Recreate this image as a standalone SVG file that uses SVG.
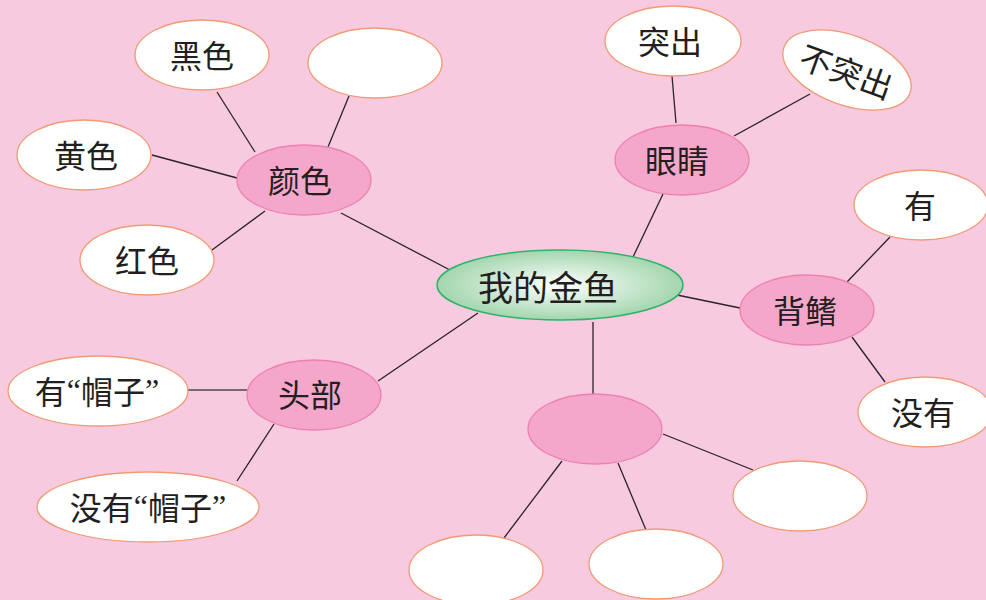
<svg xmlns="http://www.w3.org/2000/svg" width="986" height="600" viewBox="0 0 986 600">
<style>
.leaf{fill:#FFFFFF;stroke:#F29A74;stroke-width:1.3}
.mid{fill:#F4A6CB;stroke:#EE80B0;stroke-width:1.3}
.t{font-family:"Noto Sans CJK SC","Noto Sans CJK TC",sans-serif;font-size:32px;fill:#231F20;text-anchor:middle;dominant-baseline:central}
.q{font-family:"Liberation Serif",serif}
.c line{stroke:#2B2326;stroke-width:1.3}
</style>
<defs>
<radialGradient id="g" cx="0.5" cy="0.5" r="0.5">
<stop offset="0" stop-color="#FFFFFF"/>
<stop offset="1" stop-color="#A3D6AE"/>
</radialGradient>
</defs>
<rect width="986" height="600" fill="#F7CADF"/>
<g class="c" id="connectors">
<line x1="217" y1="92" x2="255" y2="152"/>
<line x1="349" y1="96" x2="328" y2="147"/>
<line x1="152" y1="155" x2="237" y2="178"/>
<line x1="212" y1="250" x2="265" y2="211"/>
<line x1="341" y1="213" x2="450" y2="270"/>
<line x1="672" y1="76" x2="676" y2="123"/>
<line x1="810" y1="94" x2="734" y2="136"/>
<line x1="663" y1="194" x2="633" y2="257"/>
<line x1="890" y1="237" x2="847" y2="282"/>
<line x1="677" y1="295" x2="740" y2="308"/>
<line x1="852" y1="337" x2="885" y2="382"/>
<line x1="187" y1="390" x2="247" y2="390" style="stroke:#7A6870;stroke-width:2"/>
<line x1="274" y1="424" x2="237" y2="481"/>
<line x1="378" y1="381" x2="478" y2="313"/>
<line x1="593" y1="322" x2="593" y2="394"/>
<line x1="562" y1="461" x2="504" y2="538"/>
<line x1="618" y1="463" x2="646" y2="530"/>
<line x1="663" y1="434" x2="753" y2="470"/>
</g>
<g id="center"><ellipse cx="560" cy="285" rx="123" ry="35" fill="url(#g)" stroke="#2DB36A" stroke-width="1.5"/><text class="t" x="548" y="285" style="font-size:35px">我的金鱼</text></g>
<g id="yanse"><ellipse class="mid" cx="304" cy="180" rx="67" ry="35"/><text class="t" x="300" y="179">颜色</text></g>
<g id="heise"><ellipse class="leaf" cx="202" cy="55" rx="67" ry="35"/><text class="t" x="202" y="54">黑色</text></g>
<g id="empty1"><ellipse class="leaf" cx="375" cy="63" rx="67" ry="35"/></g>
<g id="huangse"><ellipse class="leaf" cx="84" cy="155" rx="67" ry="35"/><text class="t" x="86" y="154">黄色</text></g>
<g id="hongse"><ellipse class="leaf" cx="147" cy="260" rx="67" ry="35"/><text class="t" x="147" y="259">红色</text></g>
<g id="yanjing"><ellipse class="mid" cx="682" cy="160" rx="67" ry="35"/><text class="t" x="677" y="159">眼睛</text></g>
<g id="tuchu"><ellipse class="leaf" cx="673" cy="41" rx="68" ry="35"/><text class="t" x="670" y="40">突出</text></g>
<g id="butuchu" transform="translate(847,70) rotate(20)"><ellipse class="leaf" cx="0" cy="0" rx="67" ry="35"/><text class="t" x="0" y="0">不突出</text></g>
<g id="beiqi"><ellipse class="mid" cx="807" cy="310" rx="67" ry="35"/><text class="t" x="805" y="309">背鳍</text></g>
<g id="you"><ellipse class="leaf" cx="921" cy="205" rx="67" ry="35"/><text class="t" x="920" y="204">有</text></g>
<g id="meiyou"><ellipse class="leaf" cx="925" cy="412" rx="67" ry="35"/><text class="t" x="923" y="411">没有</text></g>
<g id="toubu"><ellipse class="mid" cx="314" cy="395" rx="67" ry="35"/><text class="t" x="310" y="393">头部</text></g>
<g id="youmaozi"><ellipse class="leaf" cx="98" cy="391" rx="90" ry="35"/><text class="t" x="97" y="390">有<tspan class="q">“</tspan>帽子<tspan class="q">”</tspan></text></g>
<g id="meiyoumaozi"><ellipse class="leaf" cx="148" cy="507" rx="111" ry="35"/><text class="t" x="148" y="506">没有<tspan class="q">“</tspan>帽子<tspan class="q">”</tspan></text></g>
<g id="bottom"><ellipse class="mid" cx="595" cy="429" rx="67" ry="35"/></g>
<g id="empty2"><ellipse class="leaf" cx="476" cy="570" rx="67" ry="35"/></g>
<g id="empty3"><ellipse class="leaf" cx="656" cy="564" rx="67" ry="35"/></g>
<g id="empty4"><ellipse class="leaf" cx="800" cy="496" rx="67" ry="35"/></g>
</svg>
